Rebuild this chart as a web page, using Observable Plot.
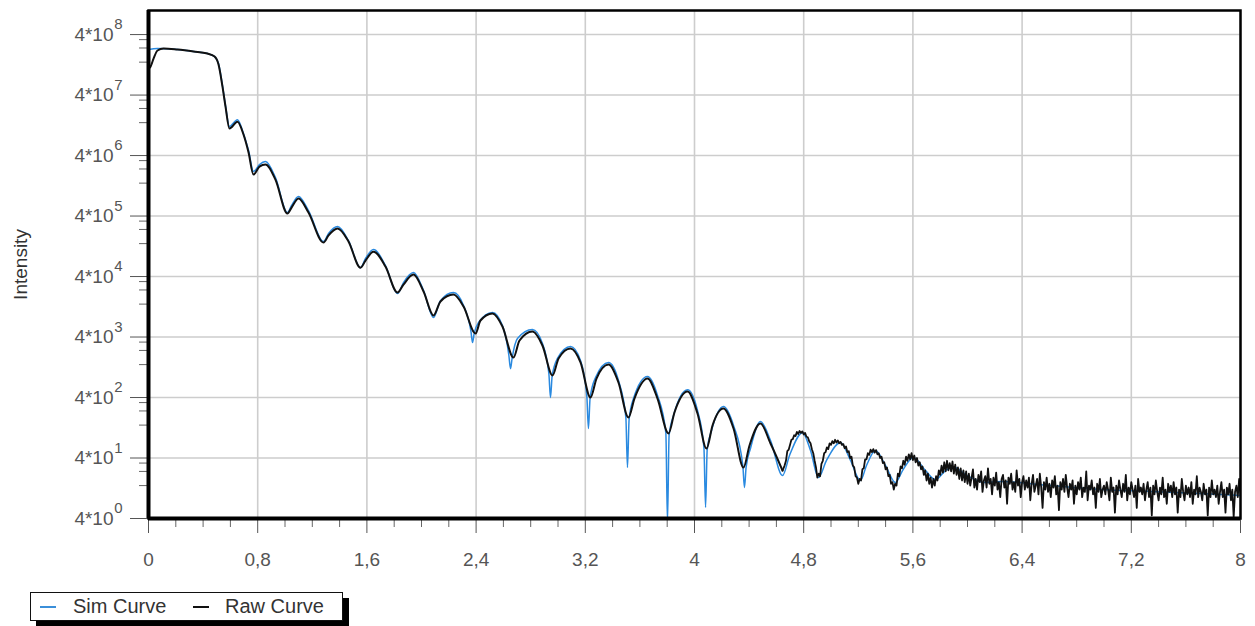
<!DOCTYPE html>
<html><head><meta charset="utf-8">
<script src="https://cdn.jsdelivr.net/npm/d3@7"></script>
<script src="https://cdn.jsdelivr.net/npm/@observablehq/plot@0.6"></script>
<style>
body{margin:0;background:#fff;font-family:"Liberation Sans",Arial,sans-serif;}
#wrap{position:relative;width:1255px;height:626px;overflow:hidden;}
#chart svg{display:block;}
#legend{position:absolute;left:30px;top:592px;width:311px;height:27px;border:1px solid #111;background:#fff;box-shadow:6px 6px 0 #000;font-size:20px;color:#333;}
#legend .sw{position:absolute;top:13px;width:16px;height:2px;}
#legend .tx{position:absolute;top:0;line-height:27px;white-space:nowrap;}
</style>
</head><body>
<div id="wrap"><div id="chart"></div>
<div id="legend">
<span class="sw" style="left:9px;background:#3b8fd9"></span><span class="tx" style="left:42px">Sim Curve</span>
<span class="sw" style="left:162px;background:#111"></span><span class="tx" style="left:194px">Raw Curve</span>
</div></div>
<script>
// axis ticks
const xDomain = [0, 8];
const yDomain = [4, 1e9];
const xMajor = [0, 0.8, 1.6, 2.4, 3.2, 4, 4.8, 5.6, 6.4, 7.2, 8];
const xMajorLabels = ["0","0,8","1,6","2,4","3,2","4","4,8","5,6","6,4","7,2","8"];
const xMinor = [0.2,0.4,0.6,1,1.2,1.4,1.8,2,2.2,2.6,2.8,3,3.4,3.6,3.8,4.2,4.4,4.6,5,5.2,5.4,5.8,6,6.2,6.6,6.8,7,7.4,7.6,7.8];
const yMajor = [4, 40, 400, 4e3, 4e4, 4e5, 4e6, 4e7, 4e8];
const yMantissaLabel = "4*10";
const yExponents = ["0", "1", "2", "3", "4", "5", "6", "7", "8"];
const yMinorMantissas = [3.3, 2.4, 1.4];
const yMinor = [1, 2, 3, 4, 5, 6, 7, 8].flatMap(k => yMinorMantissas.map(m => m * Math.pow(10, k)));

// Sim Curve
const simQ = [0,0.066,0.212,0.330,0.432,0.484,0.513,0.542,0.564,0.593,0.652,0.696,0.733,0.769,0.813,0.857,0.930,1.018,1.048,1.099,1.172,1.282,1.319,1.385,1.465,1.553,1.590,1.648,1.736,1.824,1.868,1.941,2.015,2.088,2.139,2.234,2.308,2.362,2.374,2.386,2.418,2.520,2.593,2.640,2.652,2.664,2.703,2.813,2.886,2.933,2.945,2.957,2.996,3.092,3.165,3.211,3.223,3.235,3.275,3.370,3.443,3.497,3.509,3.521,3.553,3.656,3.729,3.790,3.802,3.814,3.846,3.949,4.022,4.069,4.081,4.093,4.125,4.212,4.286,4.354,4.366,4.378,4.410,4.483,4.557,4.645,4.696,4.791,4.850,4.908,4.967,5.070,5.143,5.216,5.260,5.326,5.399,5.473,5.524,5.604,5.692,5.766,5.839,5.897,5.985,6.132,6.242,6.608,6.974,7.341,7.707,8.0];
const simI = [2.26e8,2.35e8,2.26e8,2.10e8,1.94e8,1.73e8,1.33e8,5.74e7,2.68e7,1.21e7,1.57e7,9.2e6,4.84e6,2.18e6,2.84e6,3.18e6,1.73e6,4.57e5,5.97e5,8.39e5,4.93e5,1.52e5,2.06e5,2.68e5,1.57e5,5.6e4,7.94e4,1.12e5,6.08e4,2.09e4,3.18e4,4.66e4,2.35e4,8.39e3,1.60e4,2.18e4,1.33e4,5.0e3,3.24e3,4.6e3,6.95e3,1.02e4,6.19e3,2.0e3,1.2e3,1.8e3,3.78e3,5.32e3,3.13e3,1.0e3,400,900,1.77e3,2.79e3,1.64e3,430,123,390,857,1.52e3,764,190,27.9,175,385,890,432,105,3.5,95,201,540,244,60,6.1,55,114,284,138,30,13.0,28,57.4,160,77.8,20.5,44,105,53,19,36.4,72,36.4,17,30.1,53,30.1,15.7,24.8,40.8,24.8,17.6,24.8,28.5,21.3,15.7,16.3,14.0,12.1,11.2,10.4,9.6];

// Raw Curve (smooth part)
const rawQ = [0,0.015,0.037,0.066,0.110,0.212,0.330,0.432,0.484,0.513,0.542,0.564,0.593,0.652,0.696,0.733,0.769,0.813,0.857,0.930,1.018,1.048,1.099,1.172,1.282,1.319,1.385,1.465,1.553,1.590,1.648,1.736,1.824,1.868,1.941,2.015,2.088,2.139,2.234,2.308,2.396,2.432,2.520,2.593,2.674,2.718,2.813,2.886,2.960,3.004,3.092,3.165,3.238,3.282,3.370,3.443,3.516,3.560,3.656,3.729,3.810,3.853,3.949,4.022,4.088,4.132,4.212,4.286,4.359,4.403,4.483,4.557,4.645];
const rawI = [1.10e8,1.18e8,1.60e8,2.18e8,2.35e8,2.26e8,2.10e8,1.94e8,1.73e8,1.28e8,5.5e7,2.6e7,1.12e7,1.45e7,8.9e6,4.49e6,1.94e6,2.63e6,2.84e6,1.60e6,4.4e5,5.52e5,7.8e5,4.57e5,1.46e5,1.91e5,2.48e5,1.52e5,5.6e4,7.35e4,1.03e5,5.85e4,2.18e4,2.95e4,4.31e4,2.26e4,9.1e3,1.55e4,2.01e4,1.28e4,4.57e3,7.5e3,9.8e3,5.97e3,1.83e3,3.5e3,4.93e3,2.90e3,925,1.77e3,2.58e3,1.52e3,400,824,1.40e3,708,187,385,824,385,102,226,502,218,57.4,138,263,123,27.9,64.4,149,69.5,24.8];
// Raw Curve (noisy part, measured every 0.01 from 4.66)
const rawTailStart = 4.66, rawTailStep = 0.01;
const rawTailI = [
30,36,52,55,66,80,82,95,92,108,
100,112,104,110,98,104,90,88,76,70,
56,48,36,28,19,22,20,32,36,48,
50,60,56,70,66,76,70,80,72,78,
70,74,66,68,58,62,50,52,40,42,
30,28,20,19,15,18,17,26,27,38,
38,48,45,55,50,56,49,54,46,48,
40,42,33,34,26,28,20,21,15,16,
12,15,14,22,20,29,27,36,31,42,
36,46,38,48,37,44,34,40,30,34,
26,29,21,25,17,22,15,19,13,18,
14,20,17,25,21,30,23,34,24,36,
25,33,24,35,22,31,21,28,18,27,
17,25,16,24,15,
22,14,19,26,13,18,12,21,16,24,
11,17,20,13,27,15,18,10,19,14,
23,12,16,9,18,21,13,17,7,19,
15,22,12,16,11,25,14,18,9,16,
20,12,17,13,19,8,15,21,11,14,
18,10,22,13,6,16,12,19,11,15,
9,17,13,20,10,14,5.5,16,12,18,
11,21,13,9,15,12,17,7,14,10,
16,12,19,9,13,11,24,8,14,12,
17,10,13,6,15,11,18,9,12,14,
10,16,12,8,19,11,13,5,14,10,
17,12,9,15,11,21,8,13,10,16,
12,9,14,6,18,11,13,10,15,8,
12,16,9,13,4.5,14,10,17,11,8,
13,10,19,9,12,7,15,11,14,9,
16,10,13,5,12,9,18,11,8,14,
10,13,9,16,7,12,10,20,9,13,
11,8,15,10,12,4.5,13,9,17,10,
12,9,14,7,11,16,9,12,5,13,
10,15,8,12,4.2,11,14,9,18,10
];

const sim = simQ.map((q, i) => ({q, I: simI[i]}));
const rawSmooth = rawQ.map((q, i) => ({q, I: rawI[i]}));
const rawTail = [rawSmooth[rawSmooth.length - 1]]
  .concat(rawTailI.map((v, i) => ({q: +(rawTailStart + i * rawTailStep).toFixed(2), I: v})));

const font = '"Liberation Sans", Arial, sans-serif';
const chart = Plot.plot({
  width: 1255, height: 580,
  marginLeft: 148, marginRight: 15, marginTop: 10, marginBottom: 62,
  style: {fontFamily: font, fontSize: "19px", background: "transparent", overflow: "visible"},
  x: {domain: xDomain},
  y: {type: "log", domain: yDomain},
  marks: [
    Plot.gridX(xMajor, {stroke: "#cdcdcd", strokeOpacity: 1, strokeWidth: 1.6}),
    Plot.gridY(yMajor, {stroke: "#cdcdcd", strokeOpacity: 1, strokeWidth: 1.6}),
    Plot.axisX({ticks: xMinor, tickSize: 9, tickFormat: () => "", label: null, color: "#666"}),
    Plot.axisX({ticks: xMajor, tickSize: 15, tickPadding: 19, fontSize: 19, color: "#555", label: null,
      tickFormat: d => xMajorLabels[xMajor.indexOf(d)]}),
    Plot.axisY({ticks: yMinor, tickSize: 9, tickFormat: () => "", label: null, color: "#666"}),
    Plot.axisY({ticks: yMajor, tickSize: 18, tickFormat: () => "", color: "#555",
      label: "Intensity", labelAnchor: "center", labelArrow: "none", labelOffset: 135}),
    Plot.text(yMajor, {y: d => d, text: () => yMantissaLabel, frameAnchor: "left", dx: -35,
      textAnchor: "end", fontSize: 19, fill: "#555"}),
    Plot.text(yMajor, {y: d => d, text: (d, i) => yExponents[i], frameAnchor: "left", dx: -26, dy: -10,
      textAnchor: "end", fontSize: 15, fill: "#555"}),
    Plot.line(sim, {x: "q", y: "I", stroke: "#2a8ae0", strokeWidth: 1.5, curve: "monotone-x", clip: true}),
    Plot.line(rawSmooth, {x: "q", y: "I", stroke: "#111", strokeWidth: 2, curve: "monotone-x", clip: true}),
    Plot.line(rawTail, {x: "q", y: "I", stroke: "#111", strokeWidth: 1.8, clip: true}),
    Plot.frame({stroke: "#000", strokeWidth: 2.5}),
    Plot.ruleX(xDomain.slice(0, 1), {stroke: "#000", strokeWidth: 4}),
    Plot.ruleY(yDomain.slice(0, 1), {stroke: "#000", strokeWidth: 4})
  ]
});
document.getElementById("chart").appendChild(chart);
d3.select(chart).selectAll("text").filter(function(){ return this.textContent === "Intensity"; }).attr("fill", "#333");
</script>
</body></html>
